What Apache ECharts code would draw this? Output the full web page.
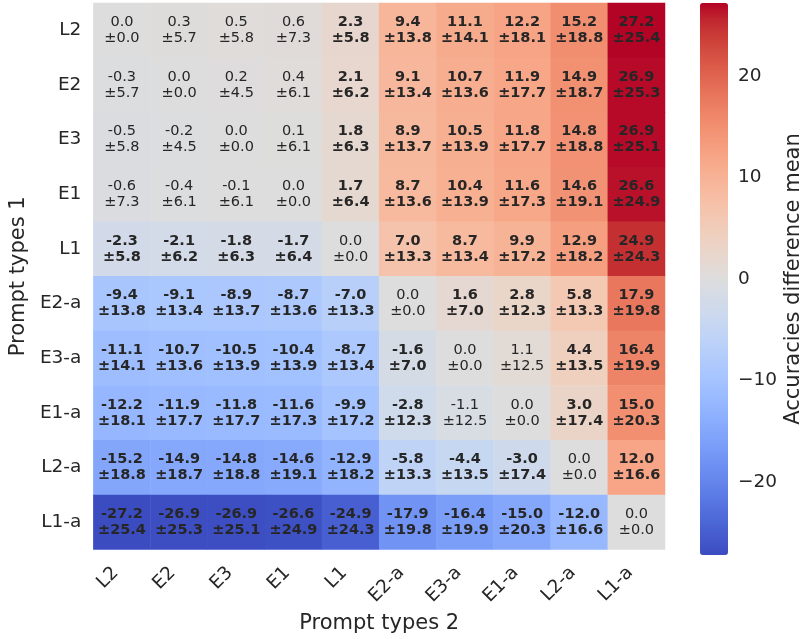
<!DOCTYPE html>
<html>
<head>
<meta charset="utf-8">
<script src="https://cdn.jsdelivr.net/npm/echarts@6/dist/echarts.min.js"></script>
<style>
html,body{margin:0;padding:0;background:#fff;}
#chart{width:805px;height:639px;}
</style>
</head>
<body>
<div id="chart"></div>
<script>
const prompts = ['L2','E2','E3','E1','L1','E2-a','E3-a','E1-a','L2-a','L1-a'];
const xAxisTitle = 'Prompt types 2';
const yAxisTitle = 'Prompt types 1';
const colorbarTitle = 'Accuracies difference mean';
const colorbarTicks = [-20, -10, 0, 10, 20];
const colorMin = -27.2, colorMax = 27.2;

const means = [
  [0.0, 0.3, 0.5, 0.6, 2.3, 9.4, 11.1, 12.2, 15.2, 27.2],
  [-0.3, 0.0, 0.2, 0.4, 2.1, 9.1, 10.7, 11.9, 14.9, 26.9],
  [-0.5, -0.2, 0.0, 0.1, 1.8, 8.9, 10.5, 11.8, 14.8, 26.9],
  [-0.6, -0.4, -0.1, 0.0, 1.7, 8.7, 10.4, 11.6, 14.6, 26.6],
  [-2.3, -2.1, -1.8, -1.7, 0.0, 7.0, 8.7, 9.9, 12.9, 24.9],
  [-9.4, -9.1, -8.9, -8.7, -7.0, 0.0, 1.6, 2.8, 5.8, 17.9],
  [-11.1, -10.7, -10.5, -10.4, -8.7, -1.6, 0.0, 1.1, 4.4, 16.4],
  [-12.2, -11.9, -11.8, -11.6, -9.9, -2.8, -1.1, 0.0, 3.0, 15.0],
  [-15.2, -14.9, -14.8, -14.6, -12.9, -5.8, -4.4, -3.0, 0.0, 12.0],
  [-27.2, -26.9, -26.9, -26.6, -24.9, -17.9, -16.4, -15.0, -12.0, 0.0]
];
const stds = [
  [0.0, 5.7, 5.8, 7.3, 5.8, 13.8, 14.1, 18.1, 18.8, 25.4],
  [5.7, 0.0, 4.5, 6.1, 6.2, 13.4, 13.6, 17.7, 18.7, 25.3],
  [5.8, 4.5, 0.0, 6.1, 6.3, 13.7, 13.9, 17.7, 18.8, 25.1],
  [7.3, 6.1, 6.1, 0.0, 6.4, 13.6, 13.9, 17.3, 19.1, 24.9],
  [5.8, 6.2, 6.3, 6.4, 0.0, 13.3, 13.4, 17.2, 18.2, 24.3],
  [13.8, 13.4, 13.7, 13.6, 13.3, 0.0, 7.0, 12.3, 13.3, 19.8],
  [14.1, 13.6, 13.9, 13.9, 13.4, 7.0, 0.0, 12.5, 13.5, 19.9],
  [18.1, 17.7, 17.7, 17.3, 17.2, 12.3, 12.5, 0.0, 17.4, 20.3],
  [18.8, 18.7, 18.8, 19.1, 18.2, 13.3, 13.5, 17.4, 0.0, 16.6],
  [25.4, 25.3, 25.1, 24.9, 24.3, 19.8, 19.9, 20.3, 16.6, 0.0]
];
// 1 = significant (bold label), 0 = not
const significant = [
  [0,0,0,0,1,1,1,1,1,1],
  [0,0,0,0,1,1,1,1,1,1],
  [0,0,0,0,1,1,1,1,1,1],
  [0,0,0,0,1,1,1,1,1,1],
  [1,1,1,1,0,1,1,1,1,1],
  [1,1,1,1,1,0,1,1,1,1],
  [1,1,1,1,1,1,0,0,1,1],
  [1,1,1,1,1,1,0,0,1,1],
  [1,1,1,1,1,1,1,1,0,1],
  [1,1,1,1,1,1,1,1,1,0]
];

// matplotlib coolwarm segment data (33 evenly spaced stops)
const cwR = [0.2298057,0.26623388,0.30386891,0.342804478,0.38301334,0.424369608,0.46666708,0.509635204,0.552953156,0.596262162,0.639176211,0.681291281,0.722193294,0.761464949,0.798691636,0.833466556,0.865395197,0.897787179,0.924127593,0.944468518,0.958852946,0.96732803,0.969954137,0.966811177,0.958003065,0.943660866,0.923944917,0.89904617,0.869186849,0.834620542,0.795631745,0.752534934,0.705673158];
const cwG = [0.298717966,0.353094838,0.406535296,0.458757618,0.50941904,0.558148092,0.604562568,0.648280772,0.688929332,0.726149107,0.759599947,0.788964712,0.813952739,0.834302879,0.849786142,0.860207984,0.86541021,0.848937047,0.827384882,0.800927443,0.769767752,0.734132809,0.694266682,0.650421156,0.602842431,0.551750968,0.49730856,0.439559467,0.378313092,0.312874446,0.24128379,0.157246067,0.01555616];
const cwB = [0.753683153,0.801466763,0.84495867,0.883725899,0.917387822,0.945619588,0.968154911,0.98478814,0.995375608,0.999836203,0.998151185,0.990363227,0.976574709,0.956945269,0.931688648,0.901068838,0.865395561,0.820880546,0.774508472,0.726736146,0.678007945,0.628751763,0.579375448,0.530263762,0.481775914,0.434243684,0.387970225,0.343229596,0.300317341,0.259563087,0.221312874,0.185945956,0.150232812];
const coolwarm = cwR.map((r, i) => {
  const h = v => Math.round(v * 255).toString(16).padStart(2, '0');
  return '#' + h(r) + h(cwG[i]) + h(cwB[i]);
});

const data = [];
for (let i = 0; i < prompts.length; i++) {
  for (let j = 0; j < prompts.length; j++) {
    data.push([j, i, means[i][j], stds[i][j], significant[i][j]]);
  }
}

const FONT = 'DejaVu Sans';
const TXT = '#262626';

const chart = echarts.init(document.getElementById('chart'), null, {renderer: 'canvas'});
chart.setOption({
  backgroundColor: '#ffffff',
  animation: false,
  textStyle: {fontFamily: FONT, color: TXT},
  grid: [
    {left: 91, top: 3, width: 574, height: 552},
    {left: 700, top: 3, width: 28, height: 552}
  ],
  xAxis: [
    {
      type: 'category', gridIndex: 0, data: prompts,
      axisLine: {show: false}, axisTick: {show: false},
      splitArea: {show: false}, splitLine: {show: false},
      axisLabel: {rotate: 45, fontSize: 18.5, color: TXT, fontFamily: FONT, margin: 14, interval: 0, padding: [0, 9, 0, 0]},
      name: xAxisTitle, nameLocation: 'middle', nameGap: 56,
      nameTextStyle: {fontSize: 21, color: TXT, fontFamily: FONT}
    },
    {type: 'value', gridIndex: 1, show: false, min: 0, max: 1}
  ],
  yAxis: [
    {
      type: 'category', gridIndex: 0, data: prompts, inverse: true,
      axisLine: {show: false}, axisTick: {show: false},
      splitArea: {show: false}, splitLine: {show: false},
      axisLabel: {fontSize: 18.5, color: TXT, fontFamily: FONT, margin: 12, interval: 0},
      name: yAxisTitle, nameLocation: 'middle', nameGap: 56, nameRotate: 90,
      nameTextStyle: {fontSize: 21, color: TXT, fontFamily: FONT}
    },
    {
      type: 'value', gridIndex: 1, position: 'right', min: colorMin, max: colorMax,
      axisLine: {show: false},
      splitLine: {show: false},
      axisTick: {show: true, length: 4, lineStyle: {color: TXT, width: 1}, customValues: colorbarTicks},
      axisLabel: {
        fontSize: 18.5, color: TXT, fontFamily: FONT, margin: 11,
        customValues: colorbarTicks,
        formatter: v => String(v).replace('-', '\u2212')
      },
      name: colorbarTitle, nameLocation: 'middle', nameGap: 56, nameRotate: 90,
      nameTextStyle: {fontSize: 21, color: TXT, fontFamily: FONT}
    }
  ],
  visualMap: {
    type: 'continuous', seriesIndex: 0, dimension: 2,
    min: colorMin, max: colorMax,
    orient: 'vertical', left: 700, top: 3,
    itemWidth: 28, itemHeight: 552, padding: 0,
    calculable: false, hoverLink: false, realtime: false,
    inRange: {color: coolwarm}
  },
  series: [{
    type: 'heatmap', xAxisIndex: 0, yAxisIndex: 0,
    data: data,
    itemStyle: {borderWidth: 0},
    emphasis: {disabled: true},
    label: {
      show: true,
      formatter: p => {
        const d = p.data;
        const k = d[4] ? 'b' : 'n';
        return '{' + k + '|' + d[2].toFixed(1) + '}\n{' + k + '|\u00b1' + d[3].toFixed(1) + '}';
      },
      rich: {
        b: {fontFamily: FONT, fontSize: 14.5, fontWeight: 'bold', color: TXT, lineHeight: 16},
        n: {fontFamily: FONT, fontSize: 14.5, fontWeight: 'normal', color: TXT, lineHeight: 16}
      }
    }
  }]
});
</script>
</body>
</html>
